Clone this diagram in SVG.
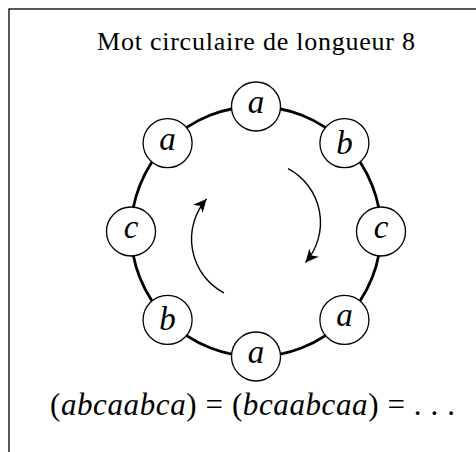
<svg xmlns="http://www.w3.org/2000/svg" width="476" height="452" viewBox="0 0 476 452">
<defs>
<style>
.frame{fill:none;stroke:#000;stroke-width:1.3}
.ring{fill:none;stroke:#000;stroke-width:2.8}
.node{fill:#fff;stroke:#000;stroke-width:1.3}
.arr{fill:none;stroke:#000;stroke-width:1.4}
</style>
<marker id="head" markerUnits="userSpaceOnUse" markerWidth="16" markerHeight="16" viewBox="-13 -7 14 14" refX="0" refY="0" orient="auto">
<path d="M0,0 L-11.5,-5.5 L-8,0 L-11.5,5.5 Z" fill="#000"/>
</marker>
</defs>
<rect class="frame" x="9" y="9" width="520" height="520"/>
<text font-family="'Liberation Serif', 'DejaVu Serif', serif" font-size="26" text-anchor="middle" x="256" y="49.5" textLength="318" lengthAdjust="spacing">Mot circulaire de longueur 8</text>
<g id="ring"><circle class="ring" cx="256" cy="231.5" r="125"/></g>
<g id="connectors">
<path class="arr" d="M288.1,168.6 A61,61 0 0 1 305.5,262.5" marker-end="url(#head)"/>
<path class="arr" d="M223.9,292.9 A61,61 0 0 1 206.5,199" marker-end="url(#head)"/>
</g>
<g font-family="'Liberation Serif', 'DejaVu Serif', serif" font-style="italic" font-size="33" text-anchor="middle">
<g id="n1"><circle class="node" cx="256" cy="106.5" r="24.5"/><text x="256" y="113">a</text></g>
<g id="n2"><circle class="node" cx="344.4" cy="143.1" r="24.5"/><text x="344.4" y="153.5">b</text></g>
<g id="n3"><circle class="node" cx="381" cy="231.5" r="24.5"/><text x="381" y="238">c</text></g>
<g id="n4"><circle class="node" cx="344.4" cy="319.9" r="24.5"/><text x="344.4" y="326.4">a</text></g>
<g id="n5"><circle class="node" cx="256" cy="356.5" r="24.5"/><text x="256" y="363">a</text></g>
<g id="n6"><circle class="node" cx="167.6" cy="319.9" r="24.5"/><text x="167.6" y="330.3">b</text></g>
<g id="n7"><circle class="node" cx="131" cy="231.5" r="24.5"/><text x="131" y="238">c</text></g>
<g id="n8"><circle class="node" cx="167.6" cy="143.1" r="24.5"/><text x="167.6" y="149.6">a</text></g>
</g>
<text font-family="'Liberation Serif', 'DejaVu Serif', serif" font-size="31" x="50" y="415" textLength="405" lengthAdjust="spacing">(<tspan font-style="italic">abcaabca</tspan>) = (<tspan font-style="italic">bcaabcaa</tspan>) = . . .</text>
</svg>
